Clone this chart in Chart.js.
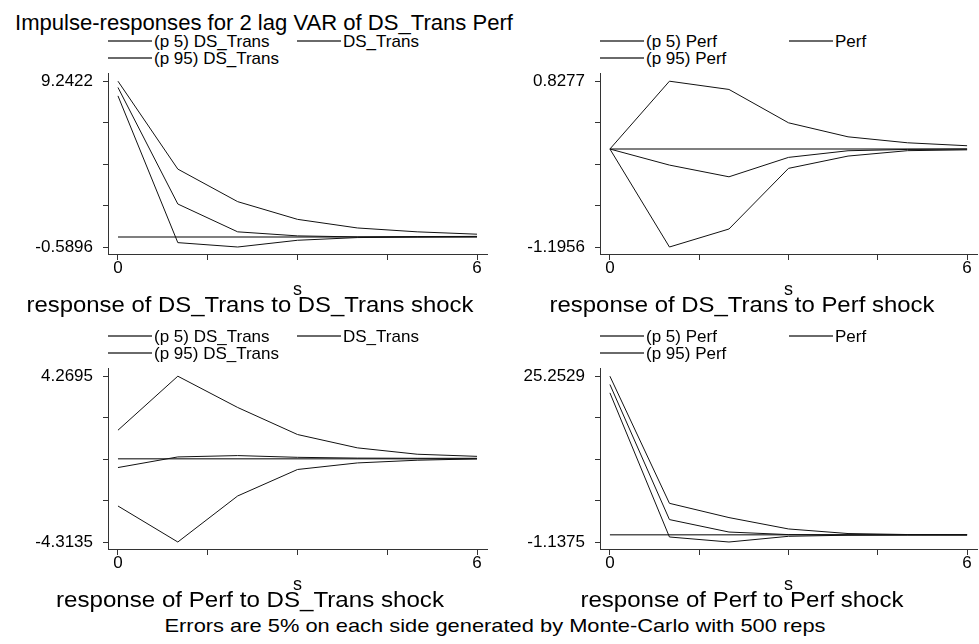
<!DOCTYPE html>
<html>
<head>
<meta charset="utf-8">
<script src="https://cdn.jsdelivr.net/npm/chart.js@4.4.1/dist/chart.umd.min.js"></script>
<style>
    body { margin: 0; background: #fff; }
    #fig { position: relative; width: 979px; height: 644px; overflow: hidden;
           font-family: "Liberation Sans", Arial, sans-serif; color: #000; }
    .panel { position: absolute; }
    .txt { position: absolute; white-space: nowrap; line-height: 1; }
    .lkey { position: absolute; width: 44px; height: 2px; background: #6a6a6a; }
</style>
</head>
<body>
<div id="fig">
    <div class="txt" id="mainTitle" style="left:15px; top:22.5px; font-size:22px;">Impulse-responses for 2 lag VAR of DS_Trans Perf</div>
    <div class="txt" id="note" style="left:495px; top:625px; font-size:19px;">Errors are 5% on each side generated by Monte-Carlo with 500 reps</div>
</div>

<script>
// horizon steps (x axis) and the labelled x ticks
const steps = [0, 1, 2, 3, 4, 5, 6];
const xTickLabels = [0, 6];
const zeroLine = [0, 0, 0, 0, 0, 0, 0];

// response of DS_Trans to DS_Trans shock
const dsToDsP5 = [8.37, -0.33, -0.5896, -0.19, -0.03, 0.00, 0.02];
const dsToDsIrf = [8.87, 1.96, 0.31, 0.07, 0.01, 0.03, 0.04];
const dsToDsP95 = [9.2422, 4.03, 2.10, 1.05, 0.54, 0.31, 0.17];
const dsToDsTicks = [-0.5896, 9.2422];

// response of DS_Trans to Perf shock
const dsToPerfP5 = [0, -1.1956, -0.976, -0.236, -0.086, -0.02, -0.01];
const dsToPerfIrf = [0, -0.196, -0.339, -0.102, -0.021, -0.005, 0.0];
const dsToPerfP95 = [0, 0.8277, 0.727, 0.32, 0.149, 0.076, 0.04];
const dsToPerfTicks = [-1.1956, 0.8277];

// response of Perf to DS_Trans shock
const perfToDsP5 = [-2.45, -4.3135, -1.93, -0.56, -0.22, -0.08, -0.01];
const perfToDsIrf = [-0.46, 0.09, 0.16, 0.07, 0.03, 0.02, 0.02];
const perfToDsP95 = [1.474, 4.2695, 2.65, 1.25, 0.56, 0.23, 0.12];
const perfToDsTicks = [-4.3135, 4.2695];

// response of Perf to Perf shock
const perfToPerfP5 = [22.6, -0.34, -1.1375, -0.23, -0.05, -0.02, -0.01];
const perfToPerfIrf = [23.93, 2.43, 0.45, 0.04, 0.0, 0.0, 0.0];
const perfToPerfP95 = [25.2529, 5.02, 2.75, 0.94, 0.21, 0.05, 0.02];
const perfToPerfTicks = [-1.1375, 25.2529];

const panels = [
    { x: 0,   y: 0,   w: 490, name: 'DS_Trans', sub: 'response of DS_Trans to DS_Trans shock', subW: 447,
      p5: dsToDsP5, irf: dsToDsIrf, p95: dsToDsP95, ticks: dsToDsTicks },
    { x: 492, y: 0,   w: 487, name: 'Perf', sub: 'response of DS_Trans to Perf shock', subW: 385,
      p5: dsToPerfP5, irf: dsToPerfIrf, p95: dsToPerfP95, ticks: dsToPerfTicks },
    { x: 0,   y: 295, w: 490, name: 'DS_Trans', sub: 'response of Perf to DS_Trans shock', subW: 388,
      p5: perfToDsP5, irf: perfToDsIrf, p95: perfToDsP95, ticks: perfToDsTicks },
    { x: 492, y: 295, w: 487, name: 'Perf', sub: 'response of Perf to Perf shock', subW: 323,
      p5: perfToPerfP5, irf: perfToPerfIrf, p95: perfToPerfP95, ticks: perfToPerfTicks }
];

Chart.defaults.font.family = '"Liberation Sans", Arial, sans-serif';
Chart.defaults.color = '#000';

const fig = document.getElementById('fig');

/**
 * Stretch a text element horizontally so that it spans the given width.
 */
function fitWidth(el, width, centered) {
    const natural = el.getBoundingClientRect().width;
    const sx = width / natural;
    el.style.transformOrigin = centered ? '50% 50%' : '0 50%';
    el.style.transform = (centered ? 'translate(-50%, -50%) ' : 'translateY(-50%) ') + 'scaleX(' + sx + ')';
}

function addText(text, left, top, size, cls) {
    const el = document.createElement('div');
    el.className = 'txt' + (cls ? ' ' + cls : '');
    el.style.left = left + 'px';
    el.style.top = top + 'px';
    el.style.fontSize = size + 'px';
    el.textContent = text;
    fig.appendChild(el);
    return el;
}

function addKey(left, top) {
    const el = document.createElement('div');
    el.className = 'lkey';
    el.style.left = left + 'px';
    el.style.top = (top - 1) + 'px';
    fig.appendChild(el);
}

/**
 * Builds one impulse-response panel: legend, Chart.js plot and subtitle.
 */
function buildPanel(p) {
    const toPoints = arr => steps.map((s, i) => ({ x: s, y: arr[i] }));

    const datasets = [
        { label: '(p 5) ' + p.name, data: toPoints(p.p5), borderColor: '#111', borderWidth: 1 },
        { label: p.name, data: toPoints(p.irf), borderColor: '#111', borderWidth: 1 },
        { label: '(p 95) ' + p.name, data: toPoints(p.p95), borderColor: '#111', borderWidth: 1 },
        { label: 'zero', data: toPoints(zeroLine), borderColor: '#555', borderWidth: 1.5 }
    ];

    // legend, laid out in two columns like the original
    const slots = [[108, 41], [297, 41], [108, 58]];
    datasets.slice(0, 3).forEach((ds, i) => {
        const lx = p.x + slots[i][0];
        const ly = p.y + slots[i][1];
        addKey(lx, ly);
        const t = addText(ds.label, lx + 46, ly - 0.5, 17);
        t.style.transform = 'translateY(-50%)';
    });

    // Chart.js keeps half a tick label plus the tick padding (~20px) above the plot area,
    // so the canvas starts 20px above the wanted top edge (y = 73)
    const box = document.createElement('div');
    box.className = 'panel';
    box.style.left = p.x + 'px';
    box.style.top = (p.y + 53) + 'px';
    box.style.width = p.w + 'px';
    box.style.height = '243px';
    const canvas = document.createElement('canvas');
    box.appendChild(canvas);
    fig.appendChild(box);

    const [lo, hi] = p.ticks;
    const span = hi - lo;
    const xFirst = steps[0];
    const xLast = steps[steps.length - 1];
    const xPad = (xLast - xFirst) / 36;

    new Chart(canvas, {
        type: 'line',
        data: { datasets: datasets },
        options: {
            responsive: true,
            maintainAspectRatio: false,
            animation: false,
            layout: { padding: { top: 0, right: p.w === 490 ? 3 : 2, left: 0, bottom: 0 } },
            elements: { point: { radius: 0 }, line: { tension: 0 } },
            plugins: { legend: { display: false }, tooltip: { enabled: false } },
            scales: {
                x: {
                    type: 'linear',
                    min: xFirst - xPad,
                    max: xLast + xPad,
                    afterFit: scale => { scale.height = 42; },
                    afterBuildTicks: scale => {
                        scale.ticks = [0, 1, 2, 3, 4].map(i => ({ value: xFirst + (xLast - xFirst) * i / 4 }));
                    },
                    ticks: {
                        autoSkip: false,
                        maxRotation: 0,
                        padding: -2,
                        font: { size: 17 },
                        callback: v => (xTickLabels.includes(v) ? String(v) : '')
                    },
                    grid: { display: true, drawOnChartArea: false, drawTicks: true, tickLength: 6, color: '#333' },
                    border: { display: true, color: '#333', width: 1 },
                    title: { display: true, text: 's', font: { size: 18 }, padding: { top: 0, bottom: -5 } }
                },
                y: {
                    type: 'linear',
                    min: lo - span * 7 / 166,
                    max: hi + span * 8 / 166,
                    afterFit: scale => { scale.width = 108; },
                    afterBuildTicks: scale => {
                        scale.ticks = [0, 1, 2, 3, 4].map(i => ({ value: lo + span * i / 4 }));
                    },
                    ticks: {
                        autoSkip: false,
                        padding: 10,
                        font: { size: 17 },
                        callback: (v, i) => (i === 0 ? lo.toFixed(4) : i === 4 ? hi.toFixed(4) : '')
                    },
                    grid: { display: true, drawOnChartArea: false, drawTicks: true, tickLength: 5, color: '#333' },
                    border: { display: true, color: '#333', width: 1 }
                }
            }
        }
    });

    const sub = addText(p.sub, p.x + 250, p.y + 304.5, 22);
    fitWidth(sub, p.subW, true);
}

panels.forEach(buildPanel);

fitWidth(document.getElementById('mainTitle'), 498, false);
fitWidth(document.getElementById('note'), 661, true);
</script>
</body>
</html>
